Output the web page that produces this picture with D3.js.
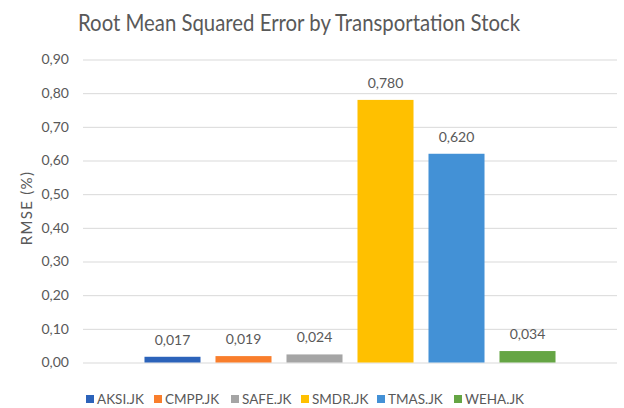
<!DOCTYPE html>
<html><head><meta charset="utf-8">
<script src="https://cdn.jsdelivr.net/npm/d3@7"></script>
<style>body{margin:0;background:#fff;} text{font-family:Lato,"Open Sans",sans-serif;fill:#595959;}</style>
</head><body>
<script>
const categories = ["AKSI.JK","CMPP.JK","SAFE.JK","SMDR.JK","TMAS.JK","WEHA.JK"];
const values = [0.017,0.019,0.024,0.780,0.620,0.034];
const labels = ["0,017","0,019","0,024","0,780","0,620","0,034"];
const colors = ["#2C63BA","#F97E2C","#A5A5A5","#FFC000","#4391D6","#65A544"];
const tickValues = [0,0.1,0.2,0.3,0.4,0.5,0.6,0.7,0.8,0.9];
const title = "Root Mean Squared Error by Transportation Stock";
const yTitle = "RMSE (%)";

const W=624,H=408;
const svg=d3.select("body").append("svg").attr("width",W).attr("height",H);
const x0=83,x1=617,yTop=59.5,yBot=362.5;
const y=d3.scaleLinear().domain([0,0.9]).range([yBot,yTop]);
const x=d3.scaleBand().domain(categories).range([x0,x1]).paddingInner(0.211).paddingOuter(0.866);

svg.append("text").attr("x",78).attr("y",30.5)
  .attr("textLength",442).attr("lengthAdjust","spacingAndGlyphs")
  .style("font-size","22.5px").text(title);

const ax=d3.axisLeft(y).tickValues(tickValues).tickSize(-(x1-x0)).tickPadding(14)
  .tickFormat(d=>d3.format(".2f")(d).replace(".",","));
const g=svg.append("g").attr("transform",`translate(${x0},0)`).call(ax);
g.select(".domain").remove();
g.selectAll(".tick line").attr("stroke","#D9D9D9").attr("stroke-width",1);
g.selectAll(".tick text").attr("font-family",null).attr("font-size",null)
  .style("font-size","14px").style("font-family","Lato,sans-serif").attr("fill","#595959");

svg.append("text").attr("transform",`translate(32,208) rotate(-90)`).attr("text-anchor","middle")
  .style("font-size","15px").style("letter-spacing","1.3px").text(yTitle);

svg.selectAll("rect.bar").data(categories).enter().append("rect").attr("class","bar")
  .attr("x",d=>x(d)).attr("width",x.bandwidth())
  .attr("y",(d,i)=>y(values[i])).attr("height",(d,i)=>yBot-y(values[i]))
  .attr("fill",(d,i)=>colors[i]);

svg.selectAll("text.lab").data(categories).enter().append("text").attr("class","lab")
  .attr("x",d=>x(d)+x.bandwidth()/2).attr("y",(d,i)=>y(values[i])-12)
  .attr("text-anchor","middle").style("font-size","14px").text((d,i)=>labels[i]);

const legX=[86,154,231,301,377,454];
const lg=svg.selectAll("g.leg").data(categories).enter().append("g").attr("class","leg")
  .attr("transform",(d,i)=>`translate(${legX[i]},399)`);
lg.append("rect").attr("x",0).attr("y",-4).attr("width",8).attr("height",8).attr("fill",(d,i)=>colors[i]);
lg.append("text").attr("x",11).attr("y",4.5).style("font-size","13.5px").text(d=>d);
</script>
</body></html>
